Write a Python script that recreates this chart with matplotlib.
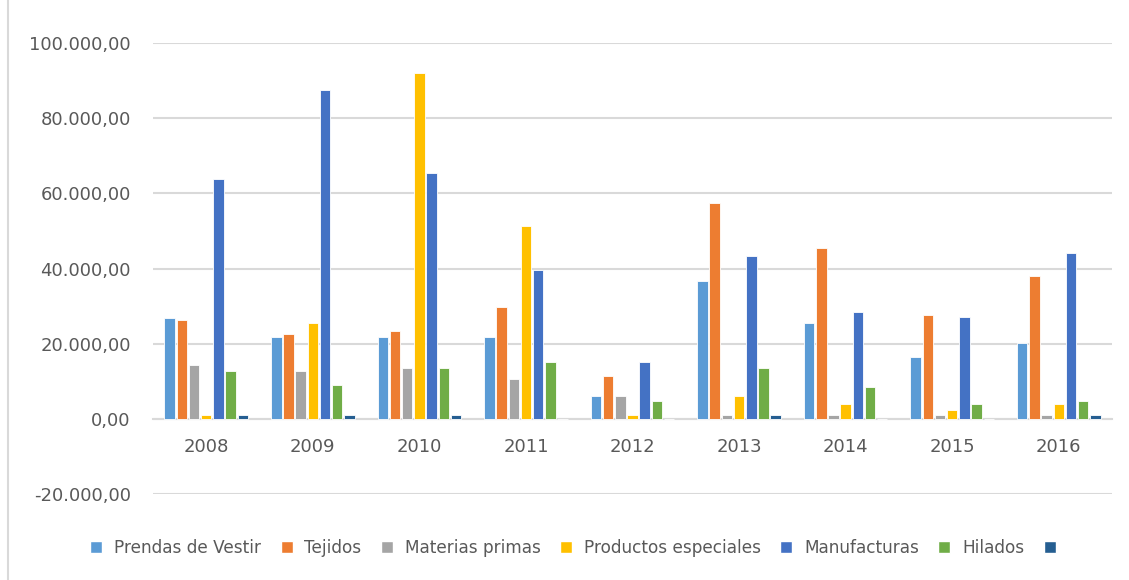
"""Grouped bar chart of yearly values by product category (Excel style)."""

import matplotlib.pyplot as plt
import numpy as np
from matplotlib.lines import Line2D
from matplotlib.ticker import FuncFormatter

years = ["2008", "2009", "2010", "2011", "2012", "2013", "2014", "2015", "2016"]

prendas = [26900, 21800, 21800, 21800, 6200, 36600, 25500, 16500, 20300]
tejidos = [26200, 22500, 23300, 29900, 11400, 57300, 45500, 27700, 38100]
materias = [14300, 12800, 13600, 10700, 6200, 1000, 1000, 1000, 1000]
productos = [1000, 25500, 92000, 51300, 1000, 6200, 4000, 2500, 4000]
manufacturas = [63900, 87500, 65300, 39600, 15100, 43400, 28500, 27000, 44000]
hilados = [12800, 9100, 13600, 15100, 4700, 13600, 8400, 4000, 4700]
otros = [1000, 1000, 1000, 0, 0, 1000, 0, 0, 1000]

series = [
    ("Prendas de Vestir", prendas, "#5B9BD5"),
    ("Tejidos", tejidos, "#ED7D31"),
    ("Materias primas", materias, "#A5A5A5"),
    ("Productos especiales", productos, "#FFC000"),
    ("Manufacturas", manufacturas, "#4472C4"),
    ("Hilados", hilados, "#70AD47"),
    ("", otros, "#255E91"),
]


def es_format(v, _pos):
    s = f"{abs(v):,.2f}".replace(",", "X").replace(".", ",").replace("X", ".")
    return ("-" if v < 0 else "") + s


def main() -> None:
    fig = plt.figure(figsize=(11.29, 5.80), dpi=100)
    ax = fig.add_axes([0.1355, 0.148, 0.8495, 0.778])

    x = np.arange(len(years))
    slot = 0.8 / len(series)
    width = slot * 0.86
    for i, (label, values, color) in enumerate(series):
        offset = (i - (len(series) - 1) / 2) * slot
        ax.bar(x + offset, values, width, color=color, edgecolor="white", linewidth=0.6, label=label, zorder=3)

    ax.set_xlim(-0.5, len(years) - 0.5)
    ax.set_ylim(-20000, 100000)
    ax.set_yticks(np.arange(-20000, 100001, 20000))
    ax.yaxis.set_major_formatter(FuncFormatter(es_format))
    ax.grid(axis="y", color="#D9D9D9", linewidth=1.5, zorder=0)
    ax.set_xticks(x)
    ax.set_xticklabels(years)

    for side in ["top", "right", "left"]:
        ax.spines[side].set_visible(False)
    ax.spines["bottom"].set_position(("data", 0))
    ax.spines["bottom"].set_color("#D9D9D9")
    ax.spines["bottom"].set_linewidth(1.5)
    ax.tick_params(axis="both", length=0, labelsize=13, labelcolor="#595959")
    ax.tick_params(axis="x", pad=14)
    ax.tick_params(axis="y", pad=16)

    handles = [
        Line2D([], [], marker="s", linestyle="none", markersize=8, color=c, markeredgecolor="white")
        for _, _, c in series
    ]
    labels = [s[0] for s in series]
    fig.legend(
        handles, labels, loc="center", bbox_to_anchor=(0.508, 0.055), ncol=len(series), frameon=False,
        fontsize=12.2, labelcolor="#595959", handletextpad=0.05, columnspacing=0.5,
    )

    fig.add_artist(Line2D([0.0075, 0.0075], [0.0, 1.0], color="#D9D9D9", linewidth=1.5, transform=fig.transFigure))

    fig.savefig("out.png", dpi=100)


if __name__ == "__main__":
    main()
